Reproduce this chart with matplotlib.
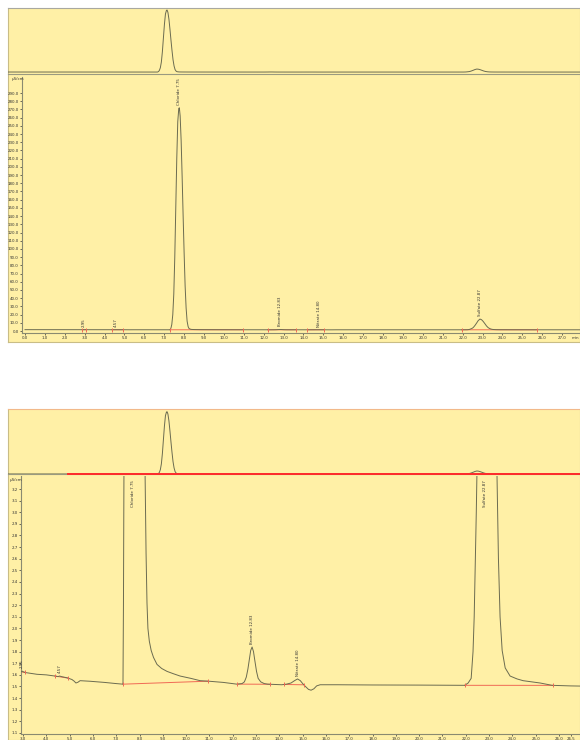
import matplotlib
matplotlib.use("Agg")
import matplotlib.pyplot as plt
import numpy as np

# chromatogram trace: time (min), conductivity (uS/cm)
t_min = [0.00, 1.00, 2.00, 2.85, 2.92, 2.97, 3.03, 3.10, 3.60, 4.00, 4.37,
         4.50, 4.57, 4.65, 4.89, 5.10, 5.20, 5.27, 5.36, 5.45, 5.88, 6.50,
         7.00, 7.29, 7.31, 7.34, 7.38, 7.43, 7.48, 7.53, 7.58, 7.63, 7.68,
         7.73, 7.76, 7.80, 7.85, 7.90, 7.95, 8.00, 8.05, 8.10, 8.15, 8.20,
         8.24, 8.28, 8.32, 8.36, 8.42, 8.50, 8.60, 8.75, 8.95, 9.18, 9.45,
         9.74, 10.20, 10.60, 11.00, 11.60, 12.18, 12.40, 12.50, 12.58,
         12.65, 12.71, 12.77, 12.83, 12.89, 12.95, 13.02, 13.09, 13.20,
         13.35, 13.50, 14.10, 14.30, 14.50, 14.65, 14.78, 14.90, 15.00,
         15.12, 15.25, 15.36, 15.48, 15.60, 15.75, 16.50, 18.00, 20.00,
         21.95, 22.10, 22.23, 22.31, 22.36, 22.40, 22.45, 22.50, 22.55,
         22.62, 22.70, 22.78, 22.87, 22.95, 23.03, 23.12, 23.20, 23.28,
         23.34, 23.40, 23.47, 23.56, 23.69, 23.90, 24.20, 24.46, 25.19,
         25.70, 26.50, 28.00]
cond = [1.66, 1.65, 1.64, 1.625, 1.627, 1.632, 1.625, 1.62, 1.605, 1.60,
        1.59, 1.585, 1.59, 1.585, 1.575, 1.56, 1.545, 1.53, 1.537, 1.55,
        1.545, 1.535, 1.525, 1.52, 2.2, 3.8, 8.0, 20.0, 45.0, 90.0, 150.0,
        210.0, 255.0, 271.0, 272.0, 262.0, 232.0, 188.0, 140.0, 95.0, 55.0,
        28.0, 12.0, 5.5, 3.3, 2.65, 2.22, 2.00, 1.89, 1.81, 1.75, 1.69,
        1.655, 1.63, 1.61, 1.59, 1.57, 1.55, 1.545, 1.535, 1.52, 1.525,
        1.54, 1.58, 1.65, 1.73, 1.81, 1.84, 1.80, 1.72, 1.63, 1.57, 1.54,
        1.525, 1.52, 1.515, 1.52, 1.53, 1.55, 1.565, 1.55, 1.525, 1.50,
        1.475, 1.468, 1.48, 1.505, 1.515, 1.515, 1.513, 1.512, 1.51, 1.53,
        1.57, 1.80, 2.10, 2.50, 3.00, 3.60, 4.70, 6.80, 9.60, 12.6, 14.6,
        13.8, 11.8, 8.9, 6.2, 4.2, 3.3, 2.6, 2.1, 1.81, 1.66, 1.59, 1.565,
        1.55, 1.53, 1.51, 1.505, 1.50]

# peak table
peak_names = ["2.95", "4.57", "Chloride 7.75", "Bromide 12.83",
              "Nitrate 14.80", "Sulfate 22.87"]
peak_rt = [2.95, 4.57, 7.75, 12.83, 14.78, 22.87]
# integration windows (start, end) in min
int_start = [2.88, 4.37, 7.29, 12.20, 14.20, 21.95]
int_end = [3.08, 4.93, 10.95, 13.60, 15.05, 25.75]

zoom_range = (2.914, 26.9)

bg = "#fff0a6"
line_c = "#6b6b50"
red_c = "#f06a55"
frame_c = "#c9bd86"
txt_c = "#333333"
fs = 2.9

W, H = 580.0, 740.0


def box(x0, y0, x1, y1):
    # pixel box (top-left origin) -> figure fraction rect
    return [x0 / W, 1 - y1 / H, (x1 - x0) / W, (y1 - y0) / H]


fig = plt.figure(figsize=(5.8, 7.4), dpi=100, facecolor="white")


def panel(y_top, y_bot, strip_bot, ax_left, ax_top, ax_bot, xlim, ylim,
          yticks, strip_ylim, red_strip, top_border):
    # yellow frame
    fr = fig.add_axes(box(8, y_top, 580, y_bot))
    fr.set_facecolor(bg)
    fr.set_xticks([])
    fr.set_yticks([])
    for s in fr.spines.values():
        s.set_color(frame_c)
        s.set_linewidth(0.8)
    fr.spines["top"].set_color(top_border)

    # overview strip
    st = fig.add_axes(box(8, y_top, 580, strip_bot))
    st.set_facecolor("none")
    st.plot(t_min, cond, color=line_c, lw=0.7)
    st.set_xlim(0, 27.9)
    st.set_ylim(*strip_ylim)
    st.set_xticks([])
    st.set_yticks([])
    for s in st.spines.values():
        s.set_visible(False)
    st.spines["bottom"].set_visible(True)
    st.spines["bottom"].set_color("#9a9a80")
    st.spines["bottom"].set_linewidth(0.8)
    if red_strip:
        st.plot([zoom_range[0], 27.9], [strip_ylim[0], strip_ylim[0]],
                color="#ff2a2a", lw=1.4, clip_on=False, zorder=5)

    # main chromatogram
    ax = fig.add_axes(box(ax_left, ax_top, 580, ax_bot))
    ax.set_facecolor("none")
    ax.plot(t_min, cond, color=line_c, lw=0.7, zorder=3)
    for a, b in zip(int_start, int_end):
        ya, yb = np.interp([a, b], t_min, cond)
        ax.plot([a, b], [ya, yb], color=red_c, lw=0.7, zorder=2)
        ax.plot([a, b], [ya, yb], ls="none", marker="|", ms=3.5,
                mew=0.7, color=red_c, zorder=4)
    y0, y1 = ylim
    for name, rt in zip(peak_names, peak_rt):
        yp = np.interp(rt, t_min, cond)
        if yp > y1:
            ax.text(rt - 0.05, y1 - (y1 - y0) * 0.015, name, rotation=90,
                    ha="center", va="top", fontsize=fs, color=txt_c)
        else:
            ax.text(rt, yp + (y1 - y0) * 0.012, name, rotation=90,
                    ha="center", va="bottom", fontsize=fs, color=txt_c)
    ax.set_xlim(*xlim)
    ax.set_ylim(*ylim)
    ax.set_yticks(yticks)
    ax.set_yticklabels([f"{v:.1f}" for v in yticks])
    ax.tick_params(labelsize=fs, length=1.5, width=0.5, pad=1,
                   colors=txt_c)
    for s in ["top", "right"]:
        ax.spines[s].set_visible(False)
    for s in ["left", "bottom"]:
        ax.spines[s].set_color("#8a8a70")
        ax.spines[s].set_linewidth(0.8)
    return ax


# top panel: full run
ax1 = panel(8, 342, 74, 22, 77, 333, (-0.15, 27.9), (-2.4, 309.5),
            np.arange(0, 291, 10), (-7, 281), False, "#a8a8a0")
ax1.set_xticks(np.arange(0, 28, 1))
ax1.set_xticklabels([f"{v:.1f}" for v in np.arange(0, 28, 1)])
fig.text(12 / W, 1 - 79 / H, "µS/cm", fontsize=fs, color=txt_c, va="center")
fig.text(0.998, 1 - 338.5 / H, "min", fontsize=fs, color=txt_c,
         ha="right", va="center")

# bottom panel: zoom on the baseline
ax2 = panel(409, 740, 474, 21, 476, 734, zoom_range, (1.091, 3.312),
            np.round(np.arange(1.1, 3.25, 0.1), 1), (1.5, 284), True,
            "#f2b98a")
xt = list(np.arange(3, 27, 1)) + [26.5]
ax2.set_xticks(xt)
ax2.set_xticklabels([f"{v:.1f}" for v in xt])
fig.text(10 / W, 1 - 480 / H, "µS/cm", fontsize=fs, color=txt_c, va="center")

fig.savefig("out.png", dpi=100, facecolor="white")
